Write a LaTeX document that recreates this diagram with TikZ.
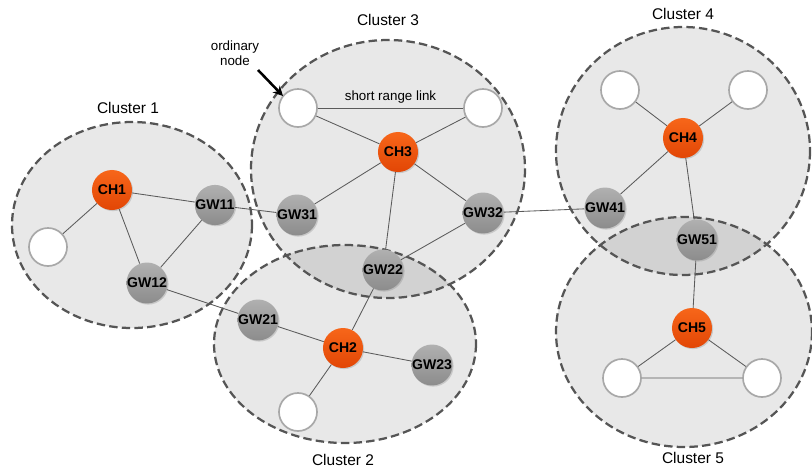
\documentclass[tikz,border=0pt]{standalone}
\usepackage{fontspec}
\setmainfont{Liberation Sans}
\usetikzlibrary{arrows.meta,shadows}
\definecolor{clfill}{HTML}{E8E8E8}
\definecolor{clover}{HTML}{D2D2D2}
\definecolor{clline}{HTML}{555555}
\definecolor{chtop}{HTML}{F7661A}
\definecolor{chbot}{HTML}{E24605}
\definecolor{gwtop}{HTML}{B0B0B0}
\definecolor{gwbot}{HTML}{8C8C8C}
\definecolor{linkgray}{HTML}{5A5A5A}
\definecolor{plainline}{HTML}{A8A8A8}
\begin{document}
\begin{tikzpicture}[x=0.025cm, y=-0.025cm,
    cluster/.style={draw=clline, line width=1.6pt, dash pattern=on 6pt off 3pt},
    head/.style={circle, minimum size=1cm, inner sep=0pt, top color=chtop, bottom color=chbot,
        font=\bfseries\fontsize{10}{11}\selectfont,
        drop shadow={shadow xshift=0.8pt, shadow yshift=-0.8pt, opacity=0.3}},
    gate/.style={head, top color=gwtop, bottom color=gwbot},
    plain/.style={circle, minimum size=0.95cm, inner sep=0pt, draw=plainline, line width=1.2pt, fill=white},
    link/.style={draw=linkgray, line width=0.6pt},
    title/.style={font=\fontsize{11}{13}\selectfont}]
\useasboundingbox (0,0) rectangle (812,469);
% cluster areas
\def\clA{(132,225) ellipse [x radius=120, y radius=103]}
\def\clB{(345,344) ellipse [x radius=131, y radius=99]}
\def\clC{(388,169) ellipse [x radius=137, y radius=129]}
\def\clD{(683,151) ellipse [x radius=127, y radius=124]}
\def\clE{(684,332) ellipse [x radius=128, y radius=115]}
\fill[clfill] \clA \clB \clC \clD \clE;
\begin{scope}
  \clip \clC;
  \fill[clover] \clB;
\end{scope}
\begin{scope}
  \clip \clD;
  \fill[clover] \clE;
\end{scope}
\draw[cluster] \clA;
\draw[cluster] \clB;
\draw[cluster] \clC;
\draw[cluster] \clD;
\draw[cluster] \clE;
\node[title] (t1) at (128,108) {Cluster 1};
\node[title] (t2) at (343,460) {Cluster 2};
\node[title] (t3) at (388,20) {Cluster 3};
\node[title] (t4) at (683,14) {Cluster 4};
\node[title] (t5) at (693,458) {Cluster 5};
% cluster 1
\node[head] (ch1) at (112,190) {CH1};
\node[gate] (gw11) at (215,205) {GW11};
\node[gate] (gw12) at (147,283) {GW12};
\node[plain] (o11) at (48,247) {};
% cluster 2
\node[head] (ch2) at (343,348) {CH2};
\node[gate] (gw21) at (258,320) {GW21};
\node[gate] (gw22) at (383,270) {GW22};
\node[gate] (gw23) at (432,365) {GW23};
\node[plain] (o21) at (298,412) {};
% cluster 3
\node[head] (ch3) at (398,152) {CH3};
\node[gate] (gw31) at (297,215) {GW31};
\node[gate] (gw32) at (483,213) {GW32};
\node[plain] (o31) at (298,108) {};
\node[plain] (o32) at (483,108) {};
% cluster 4
\node[head] (ch4) at (683,138) {CH4};
\node[gate] (gw41) at (605,208) {GW41};
\node[plain] (o41) at (620,90) {};
\node[plain] (o42) at (748,90) {};
% cluster 5
\node[head] (ch5) at (692,328) {CH5};
\node[gate] (gw51) at (697,240) {GW51};
\node[plain] (o51) at (622,378) {};
\node[plain] (o52) at (762,378) {};
% links
\draw[link] (ch1) -- (gw11) (ch1) -- (o11) (ch1) -- (gw12) (gw11) -- (gw12)
    (gw11) -- (gw31) (gw12) -- (gw21);
\draw[link] (ch2) -- (gw21) (ch2) -- (gw22) (ch2) -- (gw23) (ch2) -- (o21);
\draw[link] (ch3) -- (o31) (ch3) -- (o32) (ch3) -- (gw31) (ch3) -- (gw32)
    (ch3) -- (gw22) (gw22) -- (gw32) (gw32) -- (gw41);
\draw[link] (o31) -- node[above, font=\fontsize{9.5}{11}\selectfont] {short range link} (o32);
\draw[link] (ch4) -- (o41) (ch4) -- (o42) (ch4) -- (gw41) (ch4) -- (gw51);
\draw[link] (gw51) -- (ch5) (ch5) -- (o51) (ch5) -- (o52) (o51) -- (o52);
% annotation
\node[align=center, font=\fontsize{9.5}{11}\selectfont] (ordn) at (235,53) {ordinary\\node};
\coordinate (tip) at (283,96);
\draw[line width=1.8pt, -{Stealth[length=7pt, width=7pt]}] (258,70) -- (tip);
\end{tikzpicture}
\end{document}
